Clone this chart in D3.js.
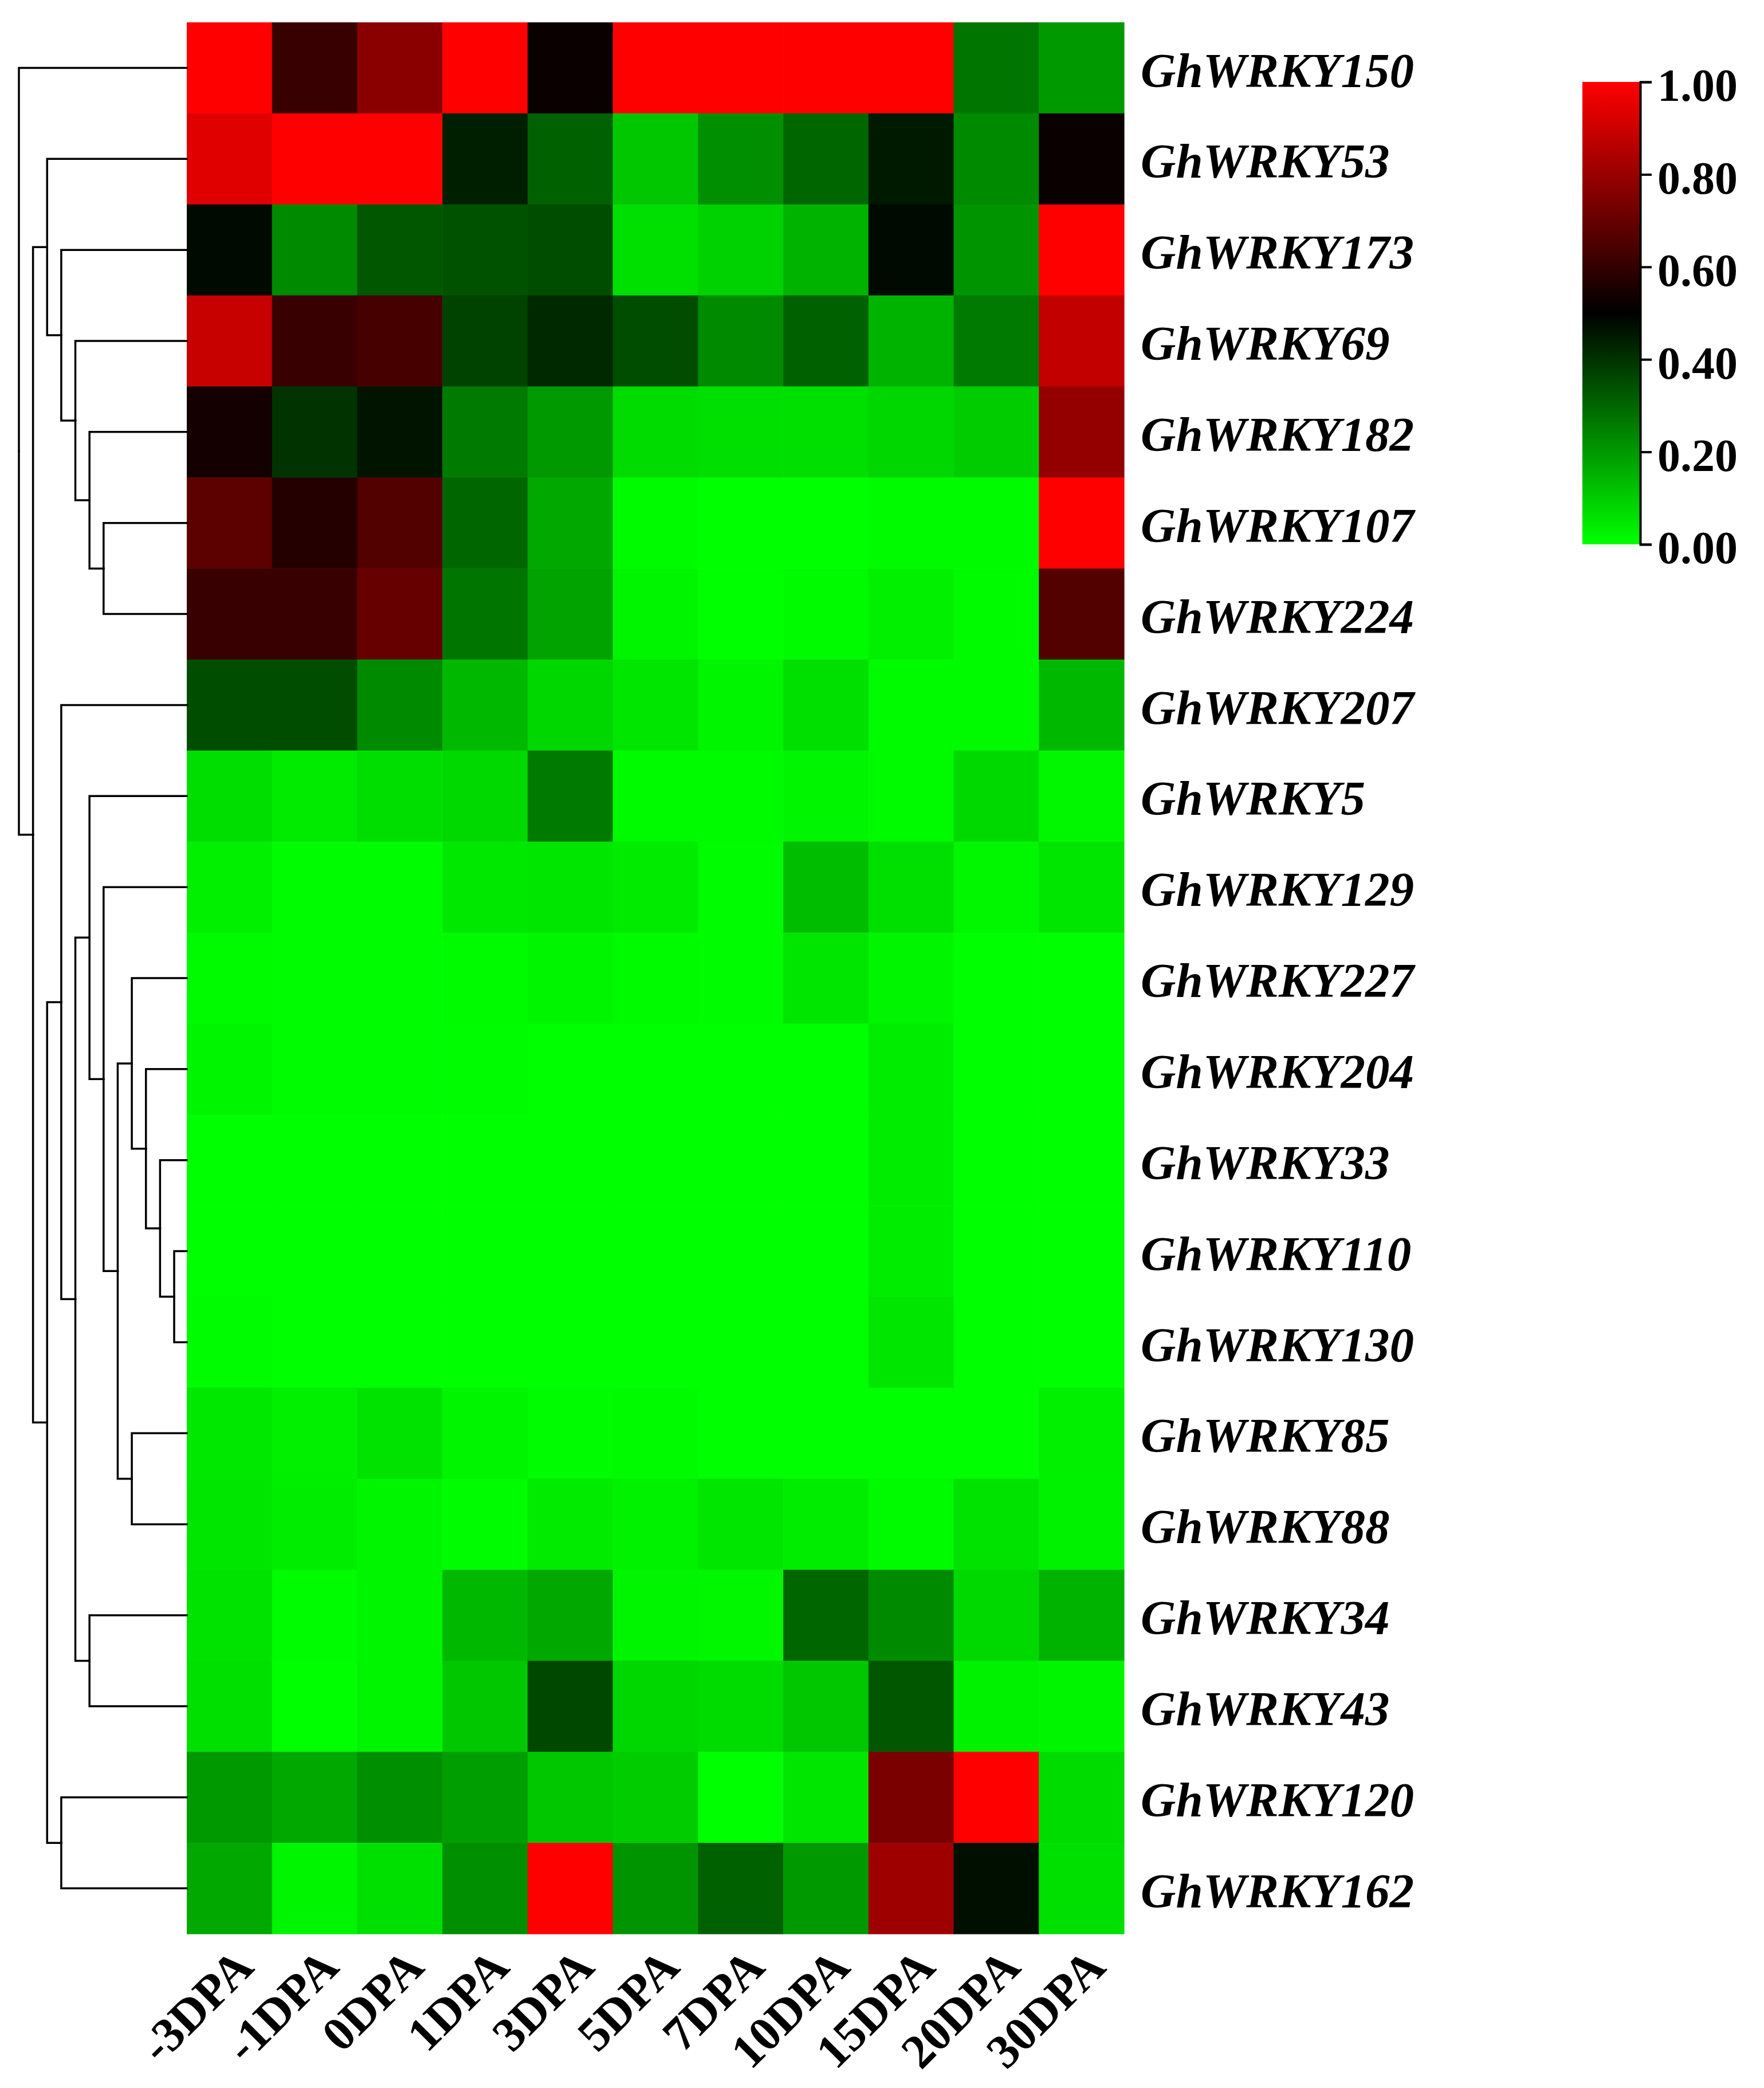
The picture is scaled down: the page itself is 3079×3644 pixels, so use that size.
<!DOCTYPE html>
<html lang="en">
<head>
<meta charset="UTF-8">
<title>GhWRKY expression heatmap</title>
<script src="https://d3js.org/d3.v7.min.js"></script>
<style>
  body { margin: 0; background: #fff; }
  text { font-family: "Liberation Serif", "Times New Roman", serif; font-weight: bold; fill: #000; }
</style>
</head>
<body>
<div id="chart"></div>
<script>
const genes = ["GhWRKY150", "GhWRKY53", "GhWRKY173", "GhWRKY69", "GhWRKY182", "GhWRKY107",
    "GhWRKY224", "GhWRKY207", "GhWRKY5", "GhWRKY129", "GhWRKY227", "GhWRKY204", "GhWRKY33",
    "GhWRKY110", "GhWRKY130", "GhWRKY85", "GhWRKY88", "GhWRKY34", "GhWRKY43", "GhWRKY120", "GhWRKY162"];
const stages = ["-3DPA", "-1DPA", "0DPA", "1DPA", "3DPA", "5DPA", "7DPA", "10DPA", "15DPA", "20DPA", "30DPA"];

// relative expression, one row per gene
const values = [
    [1.00, 0.61, 0.77, 1.00, 0.52, 1.00, 1.00, 1.00, 1.00, 0.27, 0.20],
    [0.94, 1.00, 1.00, 0.44, 0.31, 0.11, 0.22, 0.30, 0.45, 0.23, 0.52],
    [0.48, 0.23, 0.33, 0.34, 0.35, 0.06, 0.09, 0.15, 0.48, 0.21, 1.00],
    [0.89, 0.61, 0.64, 0.37, 0.42, 0.35, 0.23, 0.31, 0.15, 0.26, 0.88],
    [0.54, 0.40, 0.46, 0.26, 0.20, 0.07, 0.06, 0.06, 0.08, 0.10, 0.79],
    [0.68, 0.57, 0.66, 0.30, 0.17, 0.01, 0.00, 0.00, 0.01, 0.01, 1.00],
    [0.61, 0.61, 0.70, 0.27, 0.18, 0.02, 0.00, 0.01, 0.03, 0.01, 0.66],
    [0.35, 0.35, 0.23, 0.14, 0.08, 0.05, 0.02, 0.06, 0.01, 0.01, 0.14],
    [0.065, 0.04, 0.065, 0.075, 0.26, 0.01, 0.01, 0.02, 0.01, 0.075, 0.015],
    [0.03, 0.005, 0.005, 0.045, 0.05, 0.04, 0.005, 0.13, 0.06, 0.015, 0.05],
    [0.01, 0.005, 0.005, 0.01, 0.02, 0.01, 0.005, 0.05, 0.02, 0.00, 0.00],
    [0.02, 0.005, 0.005, 0.005, 0.00, 0.00, 0.00, 0.00, 0.035, 0.00, 0.00],
    [0.00, 0.00, 0.00, 0.00, 0.00, 0.00, 0.00, 0.00, 0.035, 0.00, 0.00],
    [0.00, 0.00, 0.00, 0.00, 0.00, 0.00, 0.00, 0.00, 0.035, 0.00, 0.00],
    [0.005, 0.00, 0.00, 0.00, 0.00, 0.00, 0.00, 0.00, 0.05, 0.00, 0.00],
    [0.045, 0.03, 0.055, 0.02, 0.005, 0.01, 0.00, 0.00, 0.00, 0.00, 0.03],
    [0.05, 0.035, 0.02, 0.005, 0.04, 0.025, 0.05, 0.035, 0.01, 0.055, 0.025],
    [0.055, 0.005, 0.02, 0.14, 0.17, 0.02, 0.015, 0.30, 0.23, 0.075, 0.15],
    [0.06, 0.00, 0.02, 0.11, 0.36, 0.08, 0.07, 0.11, 0.33, 0.025, 0.02],
    [0.20, 0.17, 0.22, 0.19, 0.11, 0.10, 0.00, 0.05, 0.74, 1.00, 0.07],
    [0.17, 0.02, 0.06, 0.22, 1.00, 0.21, 0.31, 0.20, 0.81, 0.47, 0.06]
];

// row clustering, nested pairs
const tree = ["GhWRKY150", [
    ["GhWRKY53", ["GhWRKY173", ["GhWRKY69", ["GhWRKY182", ["GhWRKY107", "GhWRKY224"]]]]],
    [
        ["GhWRKY207", [
            ["GhWRKY5", ["GhWRKY129", [
                ["GhWRKY227", ["GhWRKY204", ["GhWRKY33", ["GhWRKY110", "GhWRKY130"]]]],
                ["GhWRKY85", "GhWRKY88"]
            ]]],
            ["GhWRKY34", "GhWRKY43"]
        ]],
        ["GhWRKY120", "GhWRKY162"]
    ]
]];

const legendTicks = [0, 0.2, 0.4, 0.6, 0.8, 1.0];

const W = 3079, H = 3644;
const mapLeft = 326, mapRight = 1962, mapTop = 39, mapBottom = 3375;

const svg = d3.select('#chart')
    .append('svg')
    .attr('width', W)
    .attr('height', H);

svg.append('rect').attr('width', W).attr('height', H).attr('fill', '#fff');

const x = d3.scaleBand().domain(stages).range([mapLeft, mapRight]);
const y = d3.scaleBand().domain(genes).range([mapTop, mapBottom]);
const color = d3.scaleLinear()
    .domain([0, 0.5, 1])
    .range(["#00ff00", "#000000", "#ff0000"]);

const cells = [];
genes.forEach((g, i) => stages.forEach((s, j) => cells.push({gene: g, stage: s, value: values[i][j]})));

svg.append('g')
    .selectAll('rect')
    .data(cells)
    .enter()
    .append('rect')
    .attr('x', d => x(d.stage))
    .attr('y', d => y(d.gene))
    .attr('width', x.bandwidth() + 0.6)
    .attr('height', y.bandwidth() + 0.6)
    .attr('fill', d => color(d.value));

// dendrogram: x by depth, leaves at the heatmap edge
const root = d3.hierarchy(tree, d => Array.isArray(d) ? d : null);
const maxDepth = d3.max(root.descendants().filter(d => d.children), d => d.depth);
const depthX = d3.scaleLinear().domain([0, maxDepth]).range([33, 304]);
root.eachAfter(n => {
    if (n.children) {
        n.px = depthX(n.depth);
        n.py = d3.mean(n.children, c => c.py);
    } else {
        n.px = mapLeft;
        n.py = y(n.data) + y.bandwidth() / 2;
    }
});

svg.append('g')
    .attr('fill', 'none')
    .attr('stroke', '#000')
    .attr('stroke-width', 3.5)
    .attr('stroke-linecap', 'square')
    .selectAll('path')
    .data(root.links())
    .enter()
    .append('path')
    .attr('d', l => `M${l.source.px},${l.source.py}V${l.target.py}H${l.target.px}`);

// gene labels
const yAxis = svg.append('g')
    .attr('transform', `translate(${mapRight},0)`)
    .call(d3.axisRight(y).tickSize(0).tickPadding(29));
yAxis.select('.domain').remove();
yAxis.selectAll('text')
    .attr('dy', '0.39em')
    .style('font-family', '"Liberation Serif", "Times New Roman", serif')
    .style('font-size', '85px')
    .style('font-style', 'italic')
    .style('font-weight', 'bold')
    .attr('fill', '#000');

// stage labels
const xAxis = svg.append('g')
    .attr('transform', `translate(0,${mapBottom})`)
    .call(d3.axisBottom(x).tickSize(0));
xAxis.select('.domain').remove();
xAxis.selectAll('text')
    .attr('x', 0).attr('y', 0).attr('dy', 0)
    .attr('transform', 'translate(46,62) rotate(-45)')
    .style('text-anchor', 'end')
    .style('font-family', '"Liberation Serif", "Times New Roman", serif')
    .style('font-size', '84px')
    .style('font-weight', 'bold')
    .attr('fill', '#000');

// colour legend
const lx = 2762, lw = 101, ly0 = 143, ly1 = 950;
const legendScale = d3.scaleLinear().domain([0, 1]).range([ly1, ly0]);

const grad = svg.append('defs').append('linearGradient')
    .attr('id', 'legend-grad')
    .attr('x1', 0).attr('y1', 1).attr('x2', 0).attr('y2', 0);
grad.selectAll('stop')
    .data(color.domain())
    .enter()
    .append('stop')
    .attr('offset', d => d)
    .attr('stop-color', d => color(d));

svg.append('rect')
    .attr('x', lx)
    .attr('y', ly0)
    .attr('width', lw)
    .attr('height', ly1 - ly0)
    .attr('fill', 'url(#legend-grad)');

const legendAxis = svg.append('g')
    .attr('transform', `translate(${lx + lw},0)`)
    .call(d3.axisRight(legendScale)
        .tickValues(legendTicks)
        .tickFormat(d3.format('.2f'))
        .tickSize(20)
        .tickPadding(10));
legendAxis.selectAll('path, line')
    .attr('stroke', '#000')
    .attr('stroke-width', 4);
legendAxis.selectAll('text')
    .attr('dy', '0.41em')
    .style('font-family', '"Liberation Serif", "Times New Roman", serif')
    .style('font-size', '80px')
    .style('font-weight', 'bold')
    .attr('fill', '#000');
</script>
</body>
</html>
